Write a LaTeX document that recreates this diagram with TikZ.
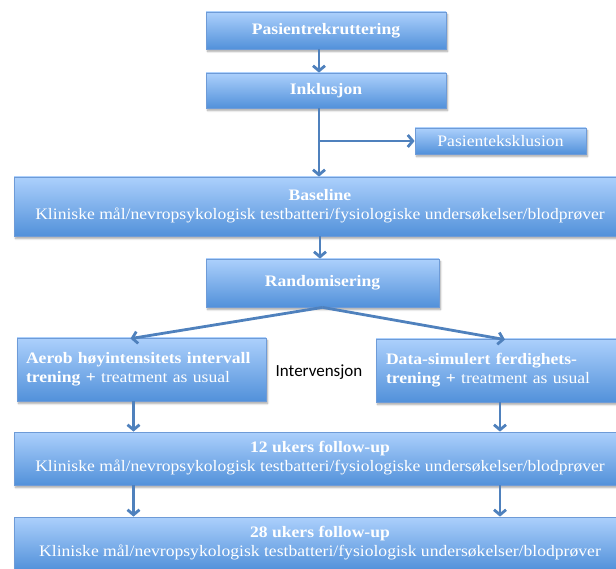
\documentclass[tikz,border=0pt]{standalone}
\usepackage{fontspec}
\setmainfont{Liberation Serif}[FakeStretch=1.1]
\newfontfamily\calib{Carlito}
\usetikzlibrary{arrows.meta,shadows.blur}
\definecolor{boxtop}{RGB}{172,208,252}
\definecolor{boxbot}{RGB}{82,145,218}
\definecolor{boxline}{RGB}{110,155,215}
\definecolor{arr}{RGB}{79,129,189}
\tikzset{
  fbox/.style={rectangle, draw=boxline, line width=0.8pt, top color=boxtop, bottom color=boxbot,
    text=white, inner sep=0pt, font=\fontsize{16}{19}\selectfont,
    blur shadow={shadow xshift=1.5pt, shadow yshift=-2.5pt, shadow blur steps=6, shadow opacity=35}},
  conn/.style={draw=arr, line width=2.8pt, -{Straight Barb[length=5pt,width=12pt]}},
}
\begin{document}
\begin{tikzpicture}[x=1pt,y=-1pt]
\useasboundingbox (0,0) rectangle (616,569);
\clip (0,0) rectangle (616,569);
\node[fbox, minimum width=240pt, minimum height=37pt] (rek) at (326,30.5) {\textbf{Pasientrekruttering}};
\node[fbox, minimum width=240pt, minimum height=35pt] (inkl) at (326,90.5) {\textbf{Inklusjon}};
\node[fbox, minimum width=171pt, minimum height=26pt] (eks) at (500.5,141) {Pasienteksklusion};
\node[fbox, minimum width=612pt, minimum height=59pt, align=center] (base) at (320,206.5)
  {\textbf{Baseline}\\Kliniske mål/nevropsykologisk testbatteri/fysiologiske undersøkelser/blodprøver};
\node[fbox, minimum width=233pt, minimum height=48pt] (rand) at (322.5,283) {\textbf{Randomisering}};
\node[fbox, minimum width=249pt, minimum height=63pt, text width=231pt, align=left] (aer) at (141.5,369.5)
  {\textbf{Aerob høyintensitets intervall}\\\textbf{trening +} treatment as usual};
\node[fbox, minimum width=250pt, minimum height=63pt, text width=230pt, align=left] (data) at (501,370.5)
  {\textbf{Data-simulert ferdighets-}\\\textbf{trening +} treatment as usual};
\node[font=\calib\fontsize{17}{20}\selectfont] (int) at (319,372) {Intervensjon};
\node[fbox, minimum width=612pt, minimum height=53pt, align=center] (f12) at (320,458.5)
  {\textbf{12 ukers follow-up}\\Kliniske mål/nevropsykologisk testbatteri/fysiologiske undersøkelser/blodprøver};
\node[fbox, minimum width=612pt, minimum height=53pt, align=center] (f28) at (320,543.5)
  {\textbf{28 ukers follow-up}\\Kliniske mål/nevropsykologisk testbatteri/fysiologisk undersøkelser/blodprøver};
% connectors
\draw[conn] ([xshift=-7pt]rek.south) -- ([xshift=-7pt]inkl.north);
\coordinate (br) at ([xshift=-7pt]inkl.south |- eks.west);
\draw[conn] ([xshift=-7pt]inkl.south) -- ([xshift=-7pt]inkl.south |- base.north);
\draw[conn] (br) -- (eks.west);
\draw[conn] (base.south) -- (base.south |- rand.north);
\draw[conn] (rand.south) -- ([xshift=-11pt,yshift=-1pt]aer.north);
\draw[conn] (rand.south) -- ([xshift=4pt,yshift=-1pt]data.north);
\draw[conn] ([xshift=-8pt]aer.south) -- ([xshift=-8pt]aer.south |- f12.north);
\draw[conn] ([xshift=-1pt]data.south) -- ([xshift=-1pt]data.south |- f12.north);
\draw[conn] ([xshift=-8pt]aer.south |- f12.south) -- ([xshift=-8pt]aer.south |- f28.north);
\draw[conn] ([xshift=-1pt]data.south |- f12.south) -- ([xshift=-1pt]data.south |- f28.north);
\end{tikzpicture}
\end{document}
